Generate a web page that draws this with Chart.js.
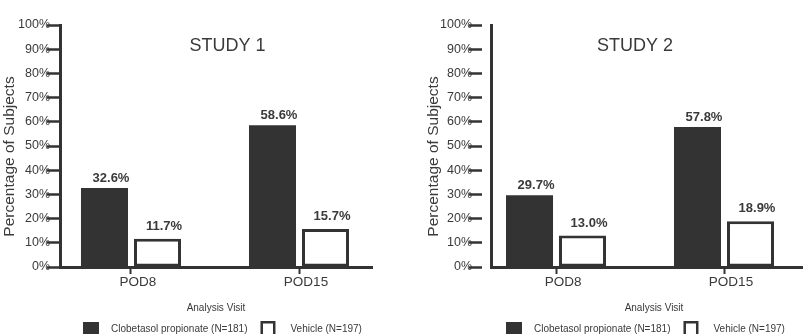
<!DOCTYPE html>
<html>
<head>
<meta charset="utf-8">
<title>Percentage of Subjects by Analysis Visit</title>
<script src="https://cdn.jsdelivr.net/npm/chart.js@4/dist/chart.umd.min.js"></script>
<style>
  html, body { margin: 0; padding: 0; background: #fff; overflow: hidden; width: 803px; height: 334px; }
  .panel { position: absolute; top: 0; }
  #panel1 { left: 0; }
  #panel2 { left: 424px; }
  canvas { display: block; }
</style>
</head>
<body>
<div class="panel" id="panel1"><canvas id="study1" width="401" height="334"></canvas></div>
<div class="panel" id="panel2"><canvas id="study2" width="401" height="334"></canvas></div>
<script>
// ---- data ----
const categories = ['POD8', 'POD15'];
const studyTitles = ['STUDY 1', 'STUDY 2'];
const seriesNames = ['Clobetasol propionate (N=181)', 'Vehicle (N=197)'];
const clobetasolStudy1 = [32.6, 58.6];
const vehicleStudy1 = [11.7, 15.7];
const clobetasolStudy2 = [29.7, 57.8];
const vehicleStudy2 = [13.0, 18.9];
const yTickValues = [0, 10, 20, 30, 40, 50, 60, 70, 80, 90, 100];
const xAxisTitle = 'Analysis Visit';
const yAxisTitle = 'Percentage of Subjects';

// ---- style ----
const FONT = '"Liberation Sans", Arial, Helvetica, sans-serif';
const INK = '#333333';
const TEXT = '#3a3a3a';
Chart.defaults.font.family = FONT;
Chart.defaults.color = TEXT;

// value labels above each bar
const valueLabels = {
  id: 'valueLabels',
  afterDatasetsDraw(chart) {
    const ctx = chart.ctx;
    ctx.save();
    ctx.font = 'bold 13px ' + FONT;
    ctx.fillStyle = TEXT;
    ctx.textAlign = 'center';
    ctx.textBaseline = 'alphabetic';
    chart.data.datasets.forEach((ds, di) => {
      const meta = chart.getDatasetMeta(di);
      meta.data.forEach((bar, i) => {
        const v = ds.data[i].y;
        const lift = 6 + (ds.borderWidth || 0);
        ctx.fillText(v.toFixed(1) + '%', bar.x + 6.5, bar.y - lift);
      });
    });
    ctx.restore();
  }
};

// study heading, y-axis title and series key
const panelText = {
  id: 'panelText',
  afterDraw(chart, args, opts) {
    const ctx = chart.ctx;
    const xs = chart.scales.x;
    ctx.save();
    // heading inside the plot
    ctx.font = '18px ' + FONT;
    ctx.fillStyle = TEXT;
    ctx.textAlign = 'center';
    ctx.textBaseline = 'middle';
    ctx.fillText(opts.heading, xs.getPixelForValue(opts.headingAt), 46);

    // rotated y-axis title
    ctx.save();
    ctx.translate(10, 156.5);
    ctx.rotate(-Math.PI / 2);
    ctx.font = '15.5px ' + FONT;
    ctx.fillText(yAxisTitle, 0, 0);
    ctx.restore();

    // series key
    ctx.font = '10px ' + FONT;
    ctx.textAlign = 'left';
    ctx.textBaseline = 'alphabetic';
    let x = opts.keyX;
    chart.data.datasets.forEach((ds, i) => {
      if (ds.borderWidth) {
        ctx.fillStyle = '#fff';
        ctx.fillRect(x, 321, 15, 16);
        ctx.strokeStyle = ds.borderColor;
        ctx.lineWidth = 2.5;
        ctx.strokeRect(x + 1.25, 322.25, 12.5, 14);
      } else {
        ctx.fillStyle = ds.backgroundColor;
        ctx.fillRect(x, 322, 16, 16);
      }
      const tx = x + (i === 0 ? 28 : 30);
      ctx.fillStyle = TEXT;
      ctx.fillText(ds.label, tx, 332);
      x = tx + ctx.measureText(ds.label).width + 13;
    });
    ctx.restore();
  }
};

function makePanel(canvasId, heading, clob, veh, p) {
  const toPoints = arr => arr.map((v, i) => ({ x: i, y: v }));
  return new Chart(document.getElementById(canvasId), {
    type: 'bar',
    data: {
      datasets: [
        {
          label: seriesNames[0],
          data: toPoints(clob),
          backgroundColor: INK,
          borderWidth: 0
        },
        {
          label: seriesNames[1],
          data: toPoints(veh),
          backgroundColor: '#ffffff',
          borderColor: INK,
          borderWidth: 3,
          borderSkipped: false
        }
      ]
    },
    options: {
      responsive: false,
      animation: false,
      devicePixelRatio: 1,
      categoryPercentage: 0.631,
      barPercentage: 0.887,
      layout: { padding: { top: 25, bottom: 20, left: 0, right: p.padRight } },
      plugins: {
        legend: { display: false },
        tooltip: { enabled: false },
        panelText: { heading: heading, headingAt: p.headingAt, keyX: p.keyX }
      },
      scales: {
        x: {
          type: 'linear',
          offset: false,
          z: 1,
          min: p.xMin,
          max: p.xMax,
          afterBuildTicks: s => { s.ticks = categories.map((c, i) => ({ value: i })); },
          afterFit: s => { s.height = 47; },
          ticks: {
            callback: v => categories[v],
            font: { size: 13.5 },
            color: TEXT,
            padding: 0,
            labelOffset: 7,
            maxRotation: 0,
            autoSkip: false
          },
          grid: {
            offset: false,
            drawOnChartArea: false,
            drawTicks: true,
            tickLength: 7,
            tickWidth: 2,
            tickColor: INK
          },
          border: { display: true, color: INK, width: 3 },
          title: {
            display: true,
            text: xAxisTitle,
            font: { size: 10 },
            color: TEXT,
            padding: 0
          }
        },
        y: {
          z: 1,
          min: 0,
          max: 100,
          afterBuildTicks: s => { s.ticks = yTickValues.map(v => ({ value: v })); },
          afterFit: s => { s.width = p.yWidth; },
          ticks: {
            callback: v => v + '%',
            font: { size: 12.5 },
            color: TEXT,
            padding: -3
          },
          grid: {
            drawOnChartArea: false,
            drawTicks: true,
            tickLength: p.tickLength,
            tickWidth: 2.5,
            tickColor: INK,
            tickBorderDash: p.tickDash,
            tickBorderDashOffset: 0
          },
          border: { display: true, color: INK, width: 3 }
        }
      }
    },
    plugins: [valueLabels, panelText]
  });
}

makePanel('study1', studyTitles[0], clobetasolStudy1, vehicleStudy1, {
  yWidth: 60, xMin: -0.4226, xMax: 1.4345, padRight: 29,
  tickLength: 13, tickDash: [], headingAt: 0.574, keyX: 83
});
makePanel('study2', studyTitles[1], clobetasolStudy2, vehicleStudy2, {
  yWidth: 67, xMin: -0.387, xMax: 1.5536, padRight: 8,
  tickLength: 22, tickDash: [13, 100], headingAt: 0.47, keyX: 82
});
</script>
</body>
</html>
